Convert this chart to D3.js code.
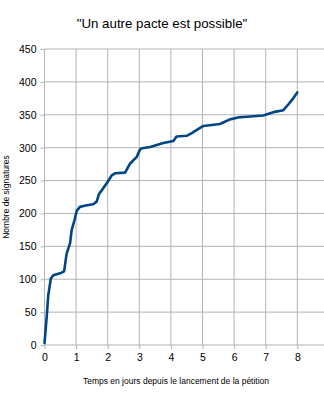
<!DOCTYPE html>
<html>
<head>
<meta charset="utf-8">
<script src="https://cdn.jsdelivr.net/npm/d3@7"></script>
<style>
  body { margin: 0; background: #fff; }
  svg { font-family: "Liberation Sans", Arial, sans-serif; display: block; }
</style>
</head>
<body>
<div id="plot"></div>
<script>
  // temps (jours) et nombre de signatures
  var jours = [0, 0.07, 0.12, 0.2, 0.28, 0.54, 0.62, 0.7, 0.81, 0.86, 0.95, 1.02, 1.12, 1.3, 1.54, 1.65, 1.73, 1.84, 1.97,
               2.13, 2.23, 2.55, 2.71, 2.92, 3.02, 3.08, 3.35, 3.55, 3.76, 4.08, 4.18, 4.5, 4.66, 4.82, 5.03, 5.55,
               5.87, 6.13, 6.4, 6.92, 7.24, 7.56, 7.72, 7.87, 8.0];
  var signatures = [3, 43, 76, 101, 106, 110, 112, 139, 155, 175, 190, 204, 210, 212, 214, 218, 230, 237, 246,
                    258, 261, 262, 276, 286, 297, 299, 301, 304, 307, 310, 317, 318, 322, 327, 333, 336,
                    343, 346, 347, 349, 354, 357, 366, 375, 384];
  var xTicks = [0, 1, 2, 3, 4, 5, 6, 7, 8];
  var yTicks = [0, 50, 100, 150, 200, 250, 300, 350, 400, 450];

  var width = 324, height = 400;

  var svg = d3.select("#plot")
      .append("svg")
      .attr("width", width)
      .attr("height", height);

  var
    x = d3.scaleLinear().domain([0, 9]).range([44.5, 44.5 + 9 * 31.6]),
    y = d3.scaleLinear().domain([0, 450]).range([345, 49]);

  var data = jours.map(function(d, i) { return {t: d, n: signatures[i]}; });

  // grille
  svg.append("g")
    .selectAll("line")
    .data(yTicks)
    .enter().append("line")
      .attr("x1", x(0)).attr("x2", width + 10)
      .attr("y1", function(d) { return y(d); })
      .attr("y2", function(d) { return y(d); })
      .style("stroke", "#b3b3b3");

  svg.append("g")
    .selectAll("line")
    .data(xTicks)
    .enter().append("line")
      .attr("x1", function(d) { return x(d); })
      .attr("x2", function(d) { return x(d); })
      .attr("y1", y(450)).attr("y2", y(0))
      .style("stroke", "#b3b3b3");

  var xAxis = d3.axisBottom(x).tickValues(xTicks).tickSize(4).tickSizeOuter(0).tickFormat(d3.format("d"));
  var yAxis = d3.axisLeft(y).tickValues(yTicks).tickSize(4).tickSizeOuter(0).tickPadding(4);

  var gx = svg.append("g")
    .attr("transform", "translate(0," + y(0) + ")")
    .call(xAxis);
  var gy = svg.append("g")
    .attr("transform", "translate(" + x(0) + ",0)")
    .call(yAxis);

  [gx, gy].forEach(function(g) {
    g.select(".domain").remove();
    g.selectAll(".tick line").style("stroke", "#b3b3b3");
    g.selectAll(".tick text").style("font-size", "10.5px").style("fill", "#000");
  });
  gx.selectAll(".tick text").attr("dy", "0.9em");

  var line = d3.line()
    .x(function(d) { return x(d.t); })
    .y(function(d) { return y(d.n); });

  svg.append("path")
    .datum(data)
    .attr("d", line)
    .style("fill", "none")
    .style("stroke", "#004586")
    .style("stroke-width", 2.6)
    .style("stroke-linejoin", "round")
    .style("stroke-linecap", "round");

  svg.append("text")
    .attr("x", 162).attr("y", 27.5)
    .attr("text-anchor", "middle")
    .style("font-size", "13.3px")
    .text("\"Un autre pacte est possible\"");

  svg.append("text")
    .attr("x", 176).attr("y", 384)
    .attr("text-anchor", "middle")
    .style("font-size", "8.5px")
    .text("Temps en jours depuis le lancement de la pétition");

  svg.append("text")
    .attr("transform", "translate(9,197) rotate(-90)")
    .attr("text-anchor", "middle")
    .style("font-size", "8.5px")
    .text("Nombre de signatures");
</script>
</body>
</html>
